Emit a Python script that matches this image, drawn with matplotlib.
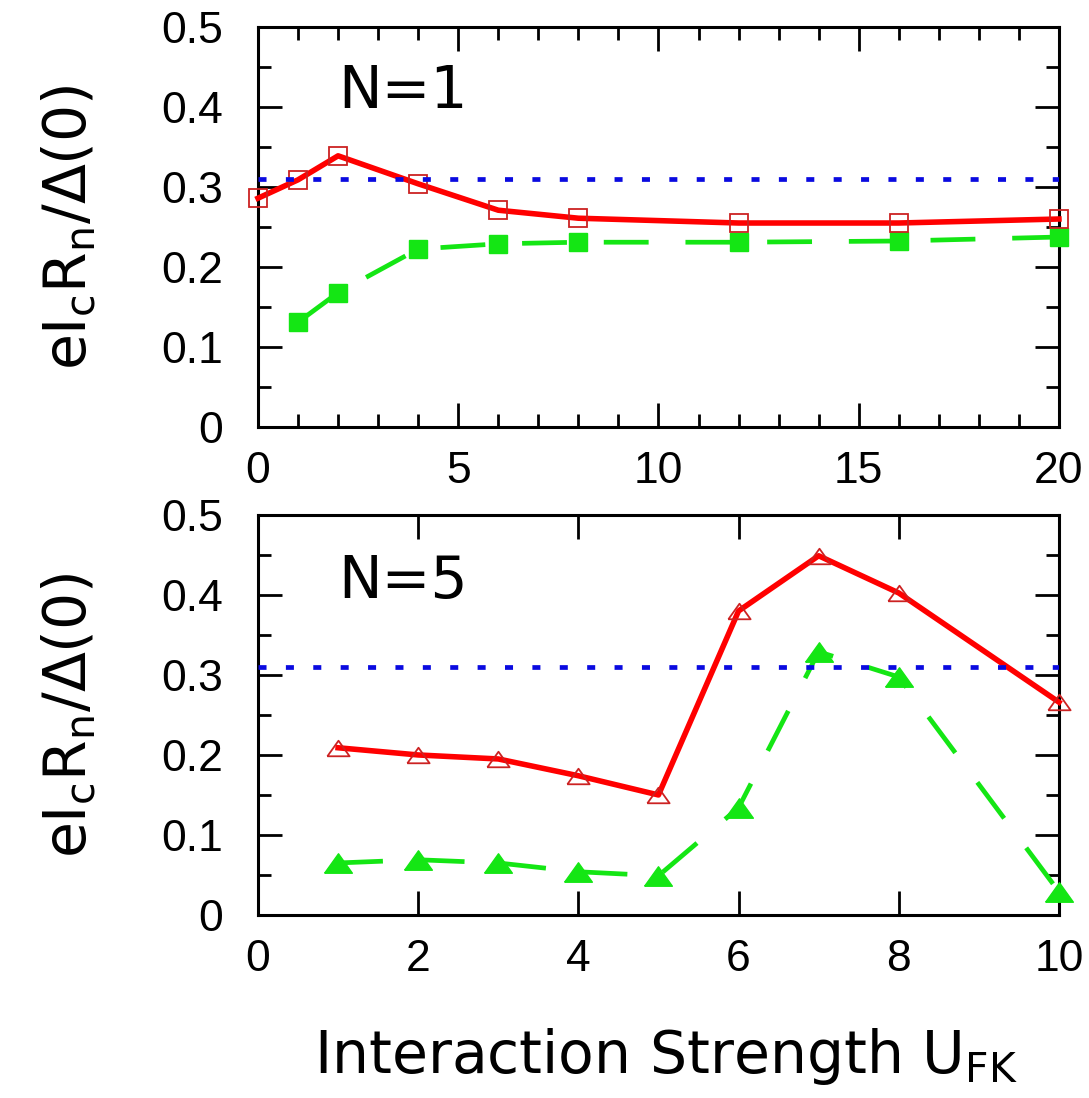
import matplotlib
matplotlib.use("Agg")
import matplotlib.pyplot as plt
import matplotlib.ticker as mticker

# ---------------------------------------------------------------------------
# Data
# ---------------------------------------------------------------------------
u_top_red = [0, 1, 2, 4, 6, 8, 12, 16, 20]
v_top_red = [0.286, 0.309, 0.339, 0.304, 0.271, 0.261, 0.255, 0.255, 0.260]
u_top_green = [1, 2, 4, 6, 8, 12, 16, 20]
v_top_green = [0.131, 0.168, 0.2225, 0.229, 0.231, 0.231, 0.2325, 0.2375]

u_bot = [1, 2, 3, 4, 5, 6, 7, 8, 10]
v_bot_red = [0.209, 0.200, 0.195, 0.174, 0.150, 0.380, 0.449, 0.4025, 0.266]
v_bot_green = [0.065, 0.069, 0.065, 0.054, 0.049, 0.134, 0.329, 0.2975, 0.029]

bcs_ratio = 0.31

y_ticks = [0, 0.1, 0.2, 0.3, 0.4, 0.5]
y_tick_labels = ["0", "0.1", "0.2", "0.3", "0.4", "0.5"]

# ---------------------------------------------------------------------------
# Style
# ---------------------------------------------------------------------------
RED = "#ff0000"
RED_EDGE = "#cc2222"
GREEN = "#14e614"
BLUE = "#0a0ae0"
TICK_FONT = "Liberation Sans"
LABEL_FONT = "DejaVu Sans"

tri = [(-1, -0.7), (1, -0.7), (0, 0.7), (-1, -0.7)]

fig = plt.figure(figsize=(10.89, 10.98), dpi=100)
ax_top = fig.add_axes([0.2369, 0.6111, 0.7355, 0.3643])
ax_bot = fig.add_axes([0.2369, 0.1667, 0.7355, 0.3643])


def style_axes(ax):
    for spine in ax.spines.values():
        spine.set_linewidth(2.2)
    ax.set_ylim(0, 0.5)
    ax.set_yticks(y_ticks)
    ax.set_yticklabels(y_tick_labels)
    ax.yaxis.set_minor_locator(mticker.MultipleLocator(0.05))
    ax.tick_params(which="both", direction="in", top=True, right=True, width=2)
    ax.tick_params(which="major", length=17)
    ax.tick_params(which="minor", length=9.5)
    ax.tick_params(axis="x", pad=17)
    ax.tick_params(axis="y", pad=25)
    for lab in ax.get_xticklabels() + ax.get_yticklabels():
        lab.set_fontfamily(TICK_FONT)
        lab.set_fontsize(32)
    ax.axhline(bcs_ratio, color=BLUE, lw=3.4, linestyle=(0, (1.7, 4.1)), zorder=5)
    ax.set_ylabel(r"$\mathregular{eI_cR_n/\Delta(0)}$", fontsize=42, family=LABEL_FONT)
    ax.yaxis.set_label_coords(-0.2, 0.5)


# ---------------------------------------------------------------------------
# Top panel — N=1
# ---------------------------------------------------------------------------
ax = ax_top
ax.plot(u_top_red, v_top_red, color=RED, lw=4.0, marker="s", markersize=13,
        markerfacecolor="none", markeredgecolor=RED_EDGE, markeredgewidth=1.3,
        clip_on=False, zorder=4)
ax.plot(u_top_green, v_top_green, color=GREEN, lw=3.4, linestyle=(0, (9.5, 7.8)),
        marker="s", markersize=13, markerfacecolor=GREEN, markeredgecolor=GREEN,
        clip_on=False, zorder=3)
ax.set_xlim(0, 20)
ax.xaxis.set_major_locator(mticker.MultipleLocator(5))
ax.xaxis.set_minor_locator(mticker.MultipleLocator(1))
style_axes(ax)
ax.text(0.10, 0.7975, "N=1", transform=ax.transAxes, fontsize=42, family=LABEL_FONT,
        va="baseline", ha="left")

# ---------------------------------------------------------------------------
# Bottom panel — N=5
# ---------------------------------------------------------------------------
ax = ax_bot
ax.plot(u_bot, v_bot_red, color=RED, lw=4.0, marker=tri, markersize=16,
        markerfacecolor="none", markeredgecolor=RED_EDGE, markeredgewidth=1.3,
        clip_on=False, zorder=4)
ax.plot(u_bot, v_bot_green, color=GREEN, lw=3.4, linestyle=(0, (9.5, 7.8)),
        marker=tri, markersize=20, markerfacecolor=GREEN, markeredgecolor=GREEN,
        clip_on=False, zorder=3)
ax.set_xlim(0, 10)
ax.xaxis.set_major_locator(mticker.MultipleLocator(2))
ax.xaxis.set_minor_locator(mticker.NullLocator())
style_axes(ax)
ax.text(0.10, 0.7925, "N=5", transform=ax.transAxes, fontsize=42, family=LABEL_FONT,
        va="baseline", ha="left")

fig.text(0.6116, 0.0228, r"Interaction Strength $\mathregular{U_{FK}}$", fontsize=42,
         family=LABEL_FONT, ha="center", va="baseline")

fig.savefig("out.png", dpi=100)
